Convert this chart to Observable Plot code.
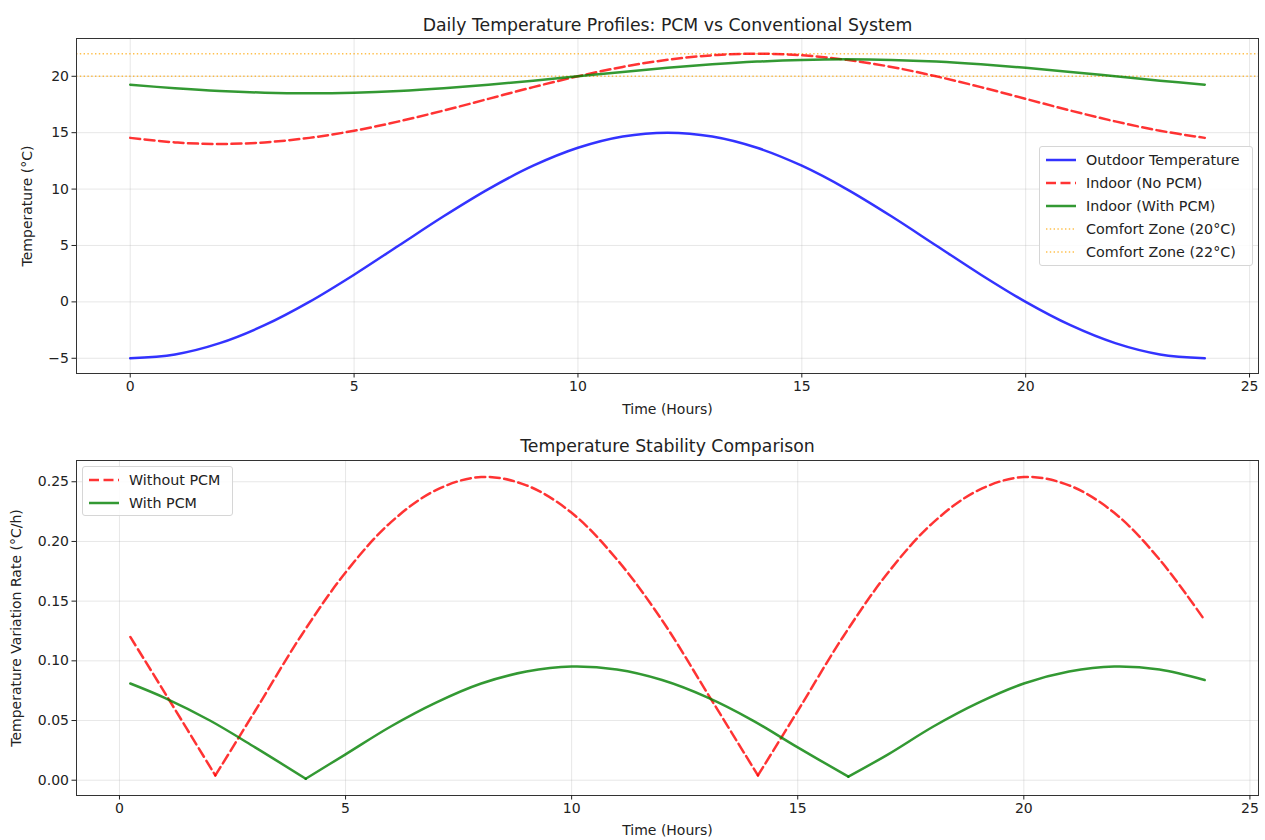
<!DOCTYPE html>
<html>
<head>
<meta charset="utf-8">
<script src="https://cdn.jsdelivr.net/npm/d3@7"></script>
<script src="https://cdn.jsdelivr.net/npm/@observablehq/plot@0.6"></script>
<style>
  body { margin: 0; background: #fff; font-family: "DejaVu Sans", sans-serif; }
  #wrap { position: relative; width: 1265px; height: 840px; }
  .legend { position: absolute; background: rgba(255,255,255,0.85); border: 1px solid #d6d6d6; border-radius: 3px; box-sizing: border-box; }
  .legend .row { position: absolute; left: 0; height: 16px; font-size: 14.3px; color: #222; white-space: nowrap; }
  .legend svg { position: absolute; left: 5px; top: 0; }
  .legend span { position: absolute; top: 0; line-height: 16px; }
</style>
</head>
<body>
<div id="wrap"></div>
<script>
// ---------- data ----------
const hours = [0,1,2,3,4,5,6,7,8,9,10,11,12,13,14,15,16,17,18,19,20,21,22,23,24];
const outdoorTemp = [-5,-4.66,-3.66,-2.07,0,2.41,5,7.59,10,12.07,13.66,14.66,15,14.66,13.66,12.07,10,7.59,5,2.41,0,-2.07,-3.66,-4.66,-5];
const indoorNoPCM = [14.54,14.14,14,14.14,14.54,15.17,16,16.96,18,19.04,20,20.83,21.46,21.86,22,21.86,21.46,20.83,20,19.04,18,16.96,16,15.17,14.54];
const indoorPCM = [19.25,18.94,18.70,18.55,18.5,18.55,18.70,18.94,19.25,19.61,20,20.39,20.75,21.06,21.30,21.45,21.5,21.45,21.30,21.06,20.75,20.39,20,19.61,19.25];
const comfortLevels = [20, 22];

const rateTimesNoPCM = [0.24,1,2.12,3,4,5,6,7,8,9,10,11,12,13,14.12,15,16,17,18,19,20,21,22,23,24];
const rateNoPCM = [0.120,0.0734,0.004,0.058,0.120,0.174,0.216,0.243,0.254,0.247,0.224,0.185,0.134,0.073,0.004,0.058,0.120,0.174,0.216,0.243,0.254,0.247,0.224,0.185,0.134];
const rateTimesPCM = [0.24,1,2,3,4.12,5,6,7,8,9,10,11,12,13,14,15,16.12,17,18,19,20,21,22,23,24];
const ratePCM = [0.081,0.069,0.050,0.0275,0.0012,0.0217,0.045,0.065,0.081,0.091,0.0952,0.0927,0.0839,0.0694,0.0502,0.0275,0.003,0.0217,0.045,0.065,0.081,0.091,0.0952,0.0927,0.0839];

const xTicks = [0,5,10,15,20,25];
const yTicksTop = [-5,0,5,10,15,20];
const yTicksBottom = [0,0.05,0.10,0.15,0.20,0.25];

const labelsTop = ["Outdoor Temperature","Indoor (No PCM)","Indoor (With PCM)","Comfort Zone (20°C)","Comfort Zone (22°C)"];
const labelsBottom = ["Without PCM","With PCM"];

// ---------- helpers ----------
const rows = (xs, ys) => xs.map((x, i) => ({x, y: ys[i]}));
// split a rectified series into arcs at its local minima (vertex shared by both arcs)
function arcs(xs, ys) {
  const out = []; let seg = 0;
  for (let i = 0; i < xs.length; i++) {
    out.push({x: xs[i], y: ys[i], seg});
    if (i > 0 && i < xs.length - 1 && ys[i] < ys[i-1] && ys[i] < ys[i+1]) {
      seg++; out.push({x: xs[i], y: ys[i], seg});
    }
  }
  return out;
}

const BLUE = "#0000ff", RED = "#ff0000", GREEN = "#008000", ORANGE = "#ffa500";
const gridStyle = {stroke: "#b0b0b0", strokeOpacity: 0.3, strokeWidth: 1};
const style = {fontFamily: "'DejaVu Sans', sans-serif", fontSize: "14px", color: "#222", background: "#fff", overflow: "visible"};

const wrap = document.getElementById("wrap");

// ---------- top panel ----------
const topPanel = Plot.plot({
  width: 1265, height: 420,
  marginLeft: 76, marginRight: 7, marginTop: 38, marginBottom: 47,
  style,
  x: {domain: [-1.2, 25.2]},
  y: {domain: [-6.35, 23.35]},
  marks: [
    Plot.gridX(xTicks, gridStyle),
    Plot.gridY(yTicksTop, gridStyle),
    Plot.ruleY(comfortLevels, {stroke: ORANGE, strokeOpacity: 0.7, strokeWidth: 1.4, strokeDasharray: "1.4,2.4"}),
    Plot.line(rows(hours, outdoorTemp), {x: "x", y: "y", stroke: BLUE, strokeOpacity: 0.8, strokeWidth: 2.5, curve: "catmull-rom"}),
    Plot.line(rows(hours, indoorNoPCM), {x: "x", y: "y", stroke: RED, strokeOpacity: 0.8, strokeWidth: 2.5, strokeDasharray: "10,4.5", curve: "catmull-rom"}),
    Plot.line(rows(hours, indoorPCM), {x: "x", y: "y", stroke: GREEN, strokeOpacity: 0.8, strokeWidth: 2.5, curve: "catmull-rom"}),
    Plot.frame({stroke: "#333", strokeWidth: 1}),
    Plot.axisX({ticks: xTicks, tickSize: 4.5, tickPadding: 3, label: "Time (Hours)", labelAnchor: "center", labelArrow: "none", labelOffset: 40, fontSize: 14}),
    Plot.axisY({ticks: yTicksTop, tickSize: 4.5, tickPadding: 3, label: "Temperature (°C)", labelAnchor: "center", labelArrow: "none", labelOffset: 54, fontSize: 14}),
    Plot.text(["Daily Temperature Profiles: PCM vs Conventional System"], {text: d => d, frameAnchor: "top", dy: -20, fontSize: 17.3, fill: "#222"})
  ]
});
topPanel.style.position = "absolute"; topPanel.style.left = "0px"; topPanel.style.top = "0px";
wrap.appendChild(topPanel);

// ---------- bottom panel ----------
const bottomPanel = Plot.plot({
  width: 1265, height: 420,
  marginLeft: 76, marginRight: 7, marginTop: 40, marginBottom: 45,
  style,
  x: {domain: [-0.95, 25.19]},
  y: {domain: [-0.0128, 0.2678]},
  marks: [
    Plot.gridX(xTicks, gridStyle),
    Plot.gridY(yTicksBottom, gridStyle),
    Plot.line(arcs(rateTimesNoPCM, rateNoPCM), {x: "x", y: "y", z: "seg", stroke: RED, strokeOpacity: 0.8, strokeWidth: 2.5, strokeDasharray: "10,4.5", curve: "catmull-rom"}),
    Plot.line(arcs(rateTimesPCM, ratePCM), {x: "x", y: "y", z: "seg", stroke: GREEN, strokeOpacity: 0.8, strokeWidth: 2.5, curve: "catmull-rom"}),
    Plot.frame({stroke: "#333", strokeWidth: 1}),
    Plot.axisX({ticks: xTicks, tickSize: 4.5, tickPadding: 3, label: "Time (Hours)", labelAnchor: "center", labelArrow: "none", labelOffset: 39, fontSize: 14}),
    Plot.axisY({ticks: yTicksBottom, tickFormat: d3.format(".2f"), tickSize: 4.5, tickPadding: 3, label: "Temperature Variation Rate (°C/h)", labelAnchor: "center", labelArrow: "none", labelOffset: 65, fontSize: 14}),
    Plot.text(["Temperature Stability Comparison"], {text: d => d, frameAnchor: "top", dy: -21, fontSize: 17.3, fill: "#222"})
  ]
});
bottomPanel.style.position = "absolute"; bottomPanel.style.left = "0px"; bottomPanel.style.top = "420px";
wrap.appendChild(bottomPanel);

// ---------- legends ----------
function legend(left, topY, width, height, items) {
  const box = document.createElement("div");
  box.className = "legend";
  Object.assign(box.style, {left: left + "px", top: topY + "px", width: width + "px", height: height + "px"});
  items.forEach((it, i) => {
    const row = document.createElement("div");
    row.className = "row";
    row.style.top = (5 + i * 23) + "px";
    row.style.width = width + "px";
    row.innerHTML = `<svg width="32" height="16"><line x1="1" x2="31" y1="8" y2="8" stroke="${it.color}" stroke-opacity="${it.op}" stroke-width="${it.w}" ${it.dash ? `stroke-dasharray="${it.dash}"` : ""}/></svg><span style="left:${46}px">${it.label}</span>`;
    box.appendChild(row);
  });
  wrap.appendChild(box);
}
legend(1039, 146, 214, 120, [
  {label: labelsTop[0], color: BLUE, op: 0.8, w: 2.5},
  {label: labelsTop[1], color: RED, op: 0.8, w: 2.5, dash: "10,4.5"},
  {label: labelsTop[2], color: GREEN, op: 0.8, w: 2.5},
  {label: labelsTop[3], color: ORANGE, op: 0.7, w: 1.4, dash: "1.4,2.4"},
  {label: labelsTop[4], color: ORANGE, op: 0.7, w: 1.4, dash: "1.4,2.4"}
]);
legend(82, 466, 151, 50, [
  {label: labelsBottom[0], color: RED, op: 0.8, w: 2.5, dash: "10,4.5"},
  {label: labelsBottom[1], color: GREEN, op: 0.8, w: 2.5}
]);
</script>
</body>
</html>
